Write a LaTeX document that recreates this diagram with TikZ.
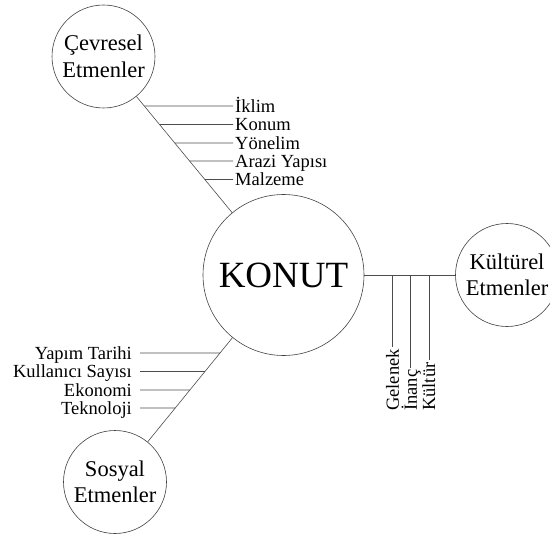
\documentclass[tikz,border=0pt]{standalone}
\usepackage{fontspec}
\setmainfont{Liberation Serif}
\begin{document}
\begin{tikzpicture}[
    x=1pt, y=-1pt,
    factor/.style={draw=black!75, circle, line width=0.6pt, inner sep=0pt,
                   minimum size=103pt, align=center,
                   font=\fontsize{22.5}{26.5}\selectfont},
    item/.style={inner sep=0pt, text height=12.2pt, text depth=0pt,
                 font=\fontsize{18.5}{20}\selectfont},
    link/.style={draw=black!70, line width=0.6pt},
]
  \useasboundingbox (0,0) rectangle (550,535);

  % Circles
  \node[factor, minimum size=161pt, text height=24.5pt, text depth=0pt,
        font=\fontsize{37}{40}\selectfont] (konut) at (283.5,275) {KONUT};
  \node[factor] (cevre) at (103.5,56.5) {Çevresel\\Etmenler};
  \node[factor] (kultur) at (507,275) {Kültürel\\Etmenler};
  \node[factor] (sosyal) at (115,482) {Sosyal\\Etmenler};

  % Main links
  \draw[link] (cevre) -- (konut);
  \draw[link] (konut) -- (kultur);
  \draw[link] (sosyal) -- (konut);

  % Environmental items
  \foreach \y/\txt [count=\i] in {106/İklim, 124.5/Konum, 143/Yönelim,
                                 161/Arazi Yapısı, 179.5/Malzeme} {
    \node[item, anchor=west] (c\i) at (235,\y) {\txt};
    \draw[link] (intersection cs: first line={(cevre.center)--(konut.center)},
                 second line={(0,\y)--(1,\y)}) -- ([xshift=-2pt]c\i.west);
  }

  % Social items
  \foreach \y/\txt [count=\i] in {353/Yapım Tarihi, 371.5/Kullanıcı Sayısı,
                                 390/Ekonomi, 408/Teknoloji} {
    \node[item, anchor=east] (s\i) at (132,\y) {\txt};
    \draw[link] ([xshift=8pt]s\i.east) --
      (intersection cs: first line={(sosyal.center)--(konut.center)},
       second line={(0,\y)--(1,\y)});
  }

  % Cultural items
  \foreach \x/\txt [count=\i] in {392.7/Gelenek, 410.7/İnanç, 429/Kültür} {
    \node[item, rotate=90, anchor=west] (k\i) at (\x,411) {\txt};
    \draw[link] (\x,275) -- ([yshift=2pt]k\i.east);
  }
\end{tikzpicture}
\end{document}
